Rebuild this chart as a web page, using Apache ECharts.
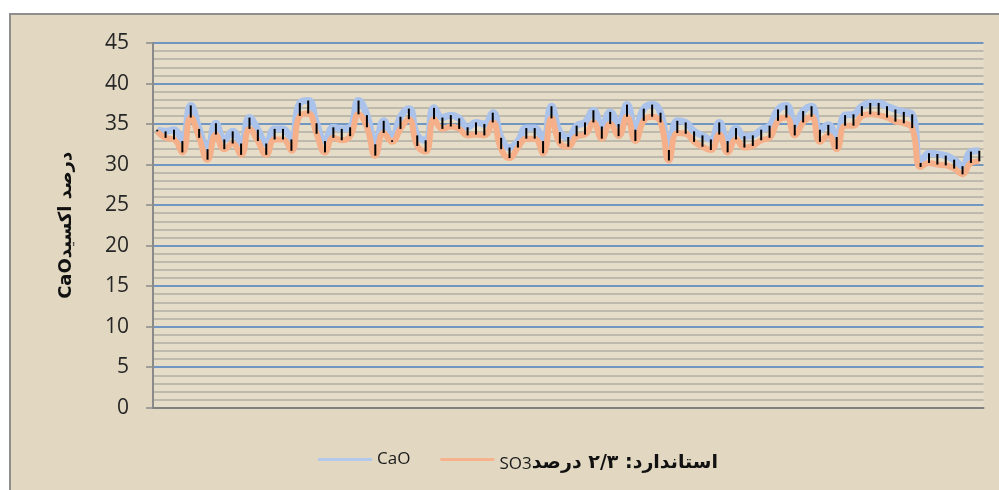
<!DOCTYPE html>
<html>
<head>
<meta charset="utf-8">
<script src="https://cdn.jsdelivr.net/npm/echarts@6/dist/echarts.min.js"></script>
<style>
  html, body { margin: 0; padding: 0; background: #ffffff; }
  #chart { width: 999px; height: 490px; }
</style>
</head>
<body>
<div id="chart"></div>
<script>
// Daily samples (x axis carries no labels)
const sampleCount = 99;
const categories = Array.from({ length: sampleCount }, (_, i) => String(i + 1));

// CaO content (%)
const caoValues = [
  34.3, 34.1, 34.3, 32.9, 37.3, 34.4, 31.9, 35.1, 33.1, 34.1,
  32.6, 35.8, 34.3, 32.6, 34.4, 34.4, 33.1, 37.6, 37.9, 35.1,
  32.9, 34.6, 34.4, 34.6, 37.9, 36.1, 32.5, 35.4, 33.0, 35.9,
  36.9, 33.6, 33.0, 37.0, 35.8, 36.1, 35.7, 34.6, 35.2, 35.0,
  36.4, 33.3, 32.1, 32.9, 34.5, 34.5, 32.9, 37.2, 34.0, 33.4,
  34.8, 35.2, 36.7, 34.7, 36.5, 35.0, 37.4, 34.3, 36.9, 37.4,
  36.4, 31.8, 35.4, 35.2, 34.1, 33.6, 33.1, 35.2, 32.9, 34.5,
  33.5, 33.6, 34.3, 34.8, 36.8, 37.3, 34.9, 36.6, 37.2, 34.3,
  34.9, 33.4, 36.1, 36.2, 37.2, 37.6, 37.6, 37.2, 36.8, 36.5,
  36.2, 30.2, 31.4, 31.3, 31.1, 30.6, 29.8, 31.6, 31.7
];

// Second series, labelled with the SO3 standard
const so3Values = [
  34.1, 33.3, 33.1, 31.5, 35.8, 33.3, 30.6, 33.7, 31.9, 32.6,
  31.2, 34.4, 32.9, 31.2, 33.1, 33.1, 31.7, 36.0, 36.3, 33.8,
  31.5, 33.3, 33.0, 33.5, 36.2, 34.6, 31.1, 33.9, 32.8, 34.4,
  35.6, 32.3, 31.6, 35.6, 34.4, 34.7, 34.4, 33.6, 33.7, 33.6,
  35.2, 31.9, 30.8, 32.1, 33.2, 33.2, 31.4, 35.7, 32.6, 32.2,
  33.5, 33.7, 35.2, 33.2, 35.0, 33.5, 35.9, 32.9, 35.4, 35.9,
  35.2, 30.5, 33.9, 33.8, 32.8, 32.2, 31.8, 33.7, 31.5, 33.1,
  32.1, 32.3, 33.0, 33.3, 35.4, 35.8, 33.6, 35.2, 35.9, 32.8,
  33.6, 31.9, 34.8, 34.8, 36.0, 36.2, 36.1, 35.8, 35.3, 35.1,
  34.5, 29.7, 30.2, 30.0, 29.9, 29.5, 28.8, 30.2, 30.4
];

const yTicks = { min: 0, max: 45, interval: 5 };

const caoName = 'CaO';
const so3Prefix = 'SO3';
const so3Standard = 'استاندارد: ۲/۳ درصد';
const so3Name = so3Prefix + so3Standard;
const yAxisTitle = 'CaO' + 'درصد اکسید';

const hiLow = categories.map((c, i) => [i, caoValues[i], so3Values[i]]);

const chart = echarts.init(document.getElementById('chart'), null, { renderer: 'canvas' });

chart.setOption({
  animation: false,
  backgroundColor: '#ffffff',
  graphic: [{
    type: 'rect',
    z: -10,
    silent: true,
    shape: { x: 10, y: 14, width: 1000, height: 490 },
    style: { fill: '#e2d8c2', stroke: '#8e8e8e', lineWidth: 2 }
  }],
  grid: {
    left: 153, top: 43, right: 15.5, bottom: 82.3,
    show: true, backgroundColor: '#e6ddc9', borderWidth: 0
  },
  legend: {
    data: [caoName, so3Name],
    left: 313, top: 446,
    itemWidth: 54, itemHeight: 12, itemGap: 30,
    icon: 'path://M0,5 L54,5 L54,8 L0,8 Z',
    formatter: function (name) {
      if (name === so3Name) {
        return '{a|' + so3Prefix + '}{b|' + so3Standard + '}';
      }
      return name;
    },
    textStyle: {
      fontFamily: 'Open Sans', fontSize: 17, color: '#1a1a1a',
      rich: {
        a: { fontFamily: 'Open Sans', fontSize: 17, color: '#1a1a1a', padding: [9, 0, 0, 0] },
        b: { fontFamily: 'DejaVu Sans', fontWeight: 'bold', fontSize: 19, color: '#111', padding: [7, 0, 0, 0] }
      }
    }
  },
  xAxis: {
    type: 'category',
    data: categories,
    boundaryGap: true,
    axisLine: { show: true, lineStyle: { color: '#808080', width: 2 } },
    axisTick: { show: false },
    axisLabel: { show: false },
    splitLine: { show: false }
  },
  yAxis: {
    type: 'value',
    min: yTicks.min, max: yTicks.max, interval: yTicks.interval,
    name: yAxisTitle,
    nameLocation: 'middle',
    nameGap: 78,
    nameRotate: 90,
    nameTextStyle: { fontFamily: 'DejaVu Sans', fontWeight: 'bold', fontSize: 18, color: '#111' },
    axisLine: { show: true, lineStyle: { color: '#8a8a8a', width: 2 } },
    axisTick: { show: true, length: 7, lineStyle: { color: '#8a8a8a', width: 1.5 } },
    axisLabel: { margin: 24, fontFamily: 'Open Sans', fontSize: 21, color: '#262626' },
    splitLine: { show: true, lineStyle: { color: '#4a7ebb', width: 1.5 } },
    minorTick: { show: false, splitNumber: 5 },
    minorSplitLine: { show: true, lineStyle: { color: '#b0aca3', width: 1.6 } }
  },
  series: [
    {
      name: caoName,
      type: 'line',
      data: caoValues,
      smooth: 0.5,
      symbol: 'none',
      z: 2,
      color: '#b3c8ea',
      lineStyle: { color: '#abc3ea', width: 7 }
    },
    {
      name: so3Name,
      type: 'line',
      data: so3Values,
      smooth: 0.5,
      symbol: 'none',
      z: 3,
      color: '#f5b28c',
      lineStyle: { color: '#f5b08a', width: 6 }
    },
    {
      name: 'hiLow',
      type: 'custom',
      z: 4,
      data: hiLow,
      encode: { x: 0, y: [1, 2] },
      renderItem: function (params, api) {
        const idx = api.value(0);
        const top = api.coord([idx, api.value(1)]);
        const bottom = api.coord([idx, api.value(2)]);
        return {
          type: 'line',
          shape: { x1: top[0], y1: top[1], x2: bottom[0], y2: bottom[1] },
          style: { stroke: '#000000', lineWidth: 2 }
        };
      }
    }
  ]
});
</script>
</body>
</html>
